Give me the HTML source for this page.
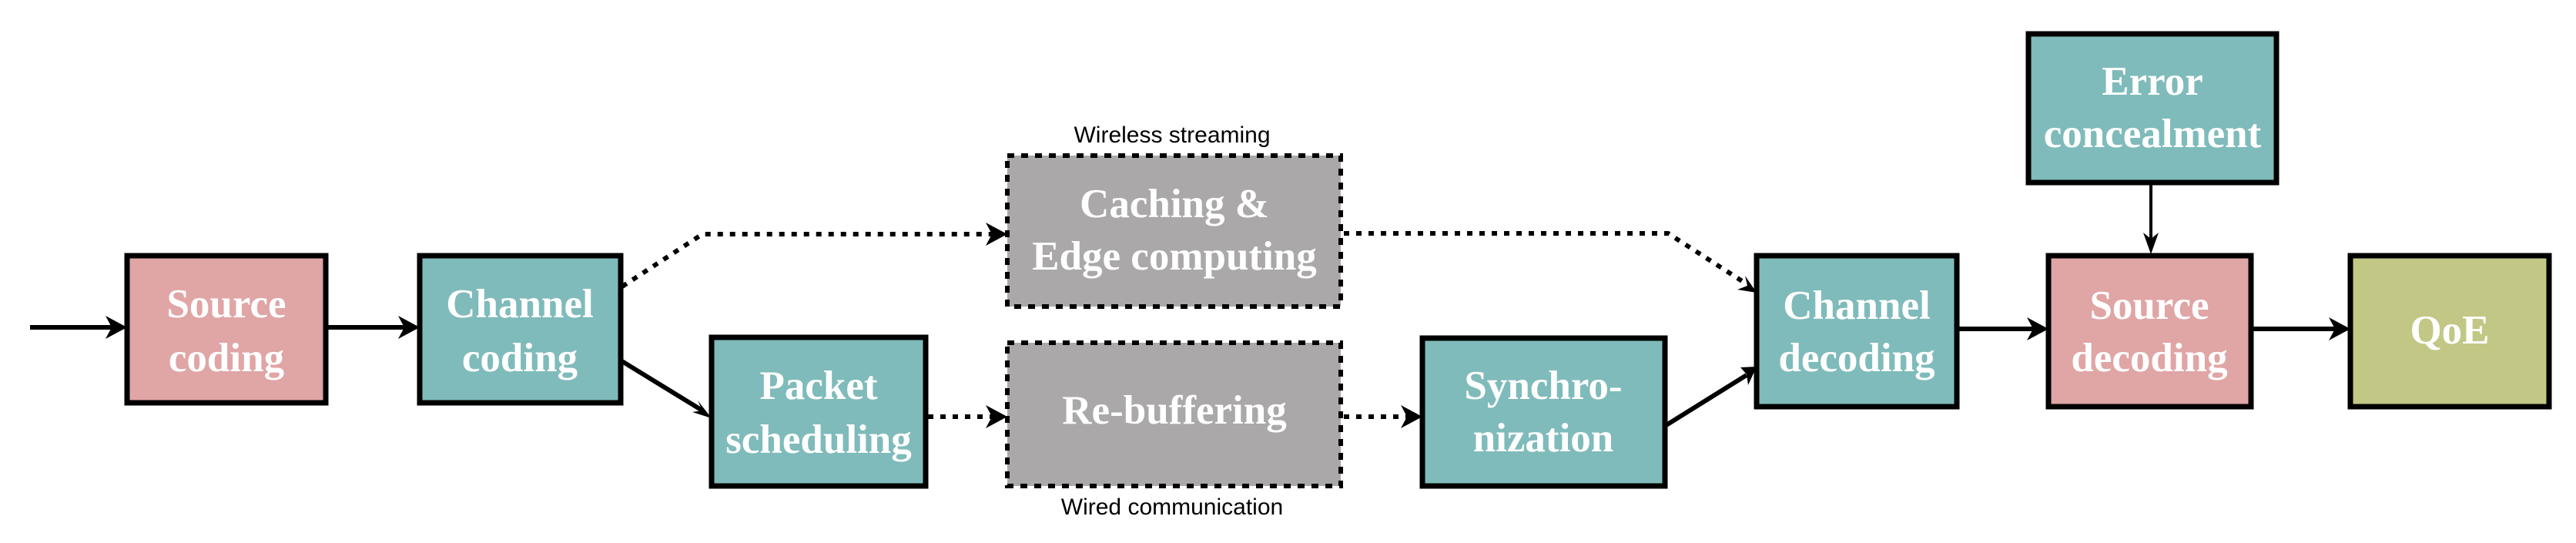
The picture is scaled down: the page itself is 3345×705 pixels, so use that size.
<!DOCTYPE html>
<html><head><meta charset="utf-8"><style>
html,body{margin:0;padding:0;background:#fff;width:3345px;height:705px;overflow:hidden}
.t{font-family:"Liberation Serif",serif;font-weight:bold;font-size:53px;fill:#fff;text-anchor:middle}
.s{font-family:"Liberation Sans",sans-serif;font-size:30px;fill:#000;text-anchor:middle}
</style></head><body>
<svg width="3345" height="705" viewBox="0 0 3345 705" xmlns="http://www.w3.org/2000/svg">
<g stroke="#000" stroke-width="7">
<rect x="165" y="332" width="258" height="191" fill="#e0a5a5"/>
<rect x="545" y="332" width="261" height="191" fill="#7fbbba"/>
<rect x="924" y="438" width="278" height="193" fill="#7fbbba"/>
<rect x="1847" y="439" width="315" height="192" fill="#7fbbba"/>
<rect x="2281" y="332" width="260" height="196" fill="#7fbbba"/>
<rect x="2660" y="332" width="263" height="196" fill="#e0a5a5"/>
<rect x="3052" y="332" width="258" height="196" fill="#c2c785"/>
<rect x="2634" y="44" width="322" height="193" fill="#7fbbba"/>
</g>
<g stroke="#000" stroke-width="6">
<rect x="1308" y="202" width="433" height="196" fill="#aaa8a8" stroke-dasharray="9 9"/>
<rect x="1308" y="445" width="433" height="186" fill="#aaa8a8" stroke-dasharray="9 9"/>
</g>
<g stroke="#000" stroke-width="6" fill="none">
<line x1="39" y1="425" x2="150" y2="425"/>
<line x1="423" y1="425" x2="530" y2="425"/>
<line x1="806" y1="468" x2="912" y2="533"/>
<line x1="2162" y1="553" x2="2268" y2="487"/>
<line x1="2541" y1="427" x2="2645" y2="427"/>
<line x1="2923" y1="427" x2="3036" y2="427"/>
<line x1="2793" y1="240" x2="2793" y2="318" stroke-width="4"/>
<polyline points="808,372 912,304 1294,304" stroke-dasharray="7 9"/>
<polyline points="1745,303 2166,303 2270,370" stroke-dasharray="7 9"/>
<line x1="1205" y1="541" x2="1294" y2="541" stroke-dasharray="7 9"/>
<line x1="1745" y1="541" x2="1831" y2="541" stroke-dasharray="7 9"/>
</g>
<g fill="#000">
<polygon points="165,425 137,410 145,425 137,440"/>
<polygon points="545,425 517,410 525,425 517,440"/>
<polygon points="924,543 899,535 912,533 906,520"/>
<polygon points="1308,304 1280,289 1288,304 1280,319"/>
<polygon points="2281,380 2266,358 2269,371 2256,376"/>
<polygon points="1308,541 1280,526 1288,541 1280,556"/>
<polygon points="1847,541 1819,526 1827,541 1819,556"/>
<polygon points="2281,476 2260,477 2268,486 2270,500"/>
<polygon points="2660,427 2632,412 2640,427 2632,442"/>
<polygon points="3052,427 3024,412 3032,427 3024,442"/>
<polygon points="2793,330 2783,302 2793,310 2803,302"/>
</g>
<text class="t" x="294" y="412">Source</text><text class="t" x="294" y="482">coding</text>
<text class="t" x="675" y="412">Channel</text><text class="t" x="675" y="482">coding</text>
<text class="t" x="1063" y="518">Packet</text><text class="t" x="1063" y="588">scheduling</text>
<text class="t" x="1525" y="282">Caching &amp;</text><text class="t" x="1525" y="350">Edge computing</text>
<text class="t" x="1525" y="550">Re-buffering</text>
<text class="t" x="2004" y="518">Synchro-</text><text class="t" x="2004" y="586">nization</text>
<text class="t" x="2411" y="414">Channel</text><text class="t" x="2411" y="482">decoding</text>
<text class="t" x="2791" y="414">Source</text><text class="t" x="2791" y="482">decoding</text>
<text class="t" x="3181" y="446">QoE</text>
<text class="t" x="2795" y="123">Error</text><text class="t" x="2795" y="191">concealment</text>
<text class="s" x="1522" y="185">Wireless streaming</text>
<text class="s" x="1522" y="668">Wired communication</text>
</svg>
</body></html>
